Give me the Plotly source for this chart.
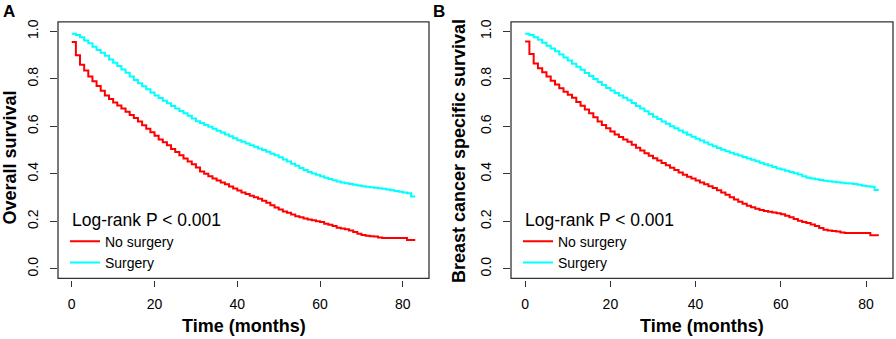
import plotly.graph_objects as go

W, H = 896, 339
FONT = "Liberation Sans, Arial, sans-serif"

months = list(range(0, 84))

# Panel A: overall survival
os_no_surgery = [0.955, 0.90, 0.86, 0.835, 0.81, 0.79, 0.77, 0.75, 0.73, 0.715,
                 0.70, 0.688, 0.675, 0.662, 0.648, 0.635, 0.62, 0.605, 0.59, 0.575,
                 0.56, 0.545, 0.533, 0.52, 0.505, 0.492, 0.478, 0.465, 0.452, 0.44,
                 0.427, 0.41, 0.40, 0.39, 0.38, 0.372, 0.364, 0.356, 0.347, 0.338,
                 0.33, 0.322, 0.315, 0.308, 0.302, 0.295, 0.287, 0.278, 0.268, 0.258,
                 0.25, 0.242, 0.236, 0.229, 0.222, 0.217, 0.212, 0.208, 0.205, 0.201,
                 0.197, 0.19, 0.186, 0.18, 0.173, 0.17, 0.167, 0.162, 0.155, 0.148,
                 0.143, 0.139, 0.137, 0.136, 0.132, 0.13, 0.13, 0.13, 0.13, 0.13,
                 0.13, 0.122, 0.122, 0.122]
os_surgery = [0.99, 0.985, 0.975, 0.962, 0.95, 0.935, 0.922, 0.91, 0.897, 0.882,
              0.868, 0.854, 0.84, 0.826, 0.81, 0.795, 0.782, 0.769, 0.756, 0.743,
              0.73, 0.719, 0.708, 0.697, 0.686, 0.675, 0.665, 0.655, 0.645, 0.633,
              0.622, 0.614, 0.606, 0.598, 0.59, 0.582, 0.574, 0.566, 0.558, 0.55,
              0.542, 0.535, 0.528, 0.521, 0.514, 0.507, 0.5, 0.493, 0.485, 0.478,
              0.47, 0.461, 0.452, 0.443, 0.434, 0.425, 0.416, 0.408, 0.402, 0.396,
              0.39, 0.384, 0.378, 0.373, 0.368, 0.364, 0.36, 0.357, 0.354, 0.351,
              0.348, 0.346, 0.344, 0.342, 0.339, 0.337, 0.334, 0.331, 0.328, 0.325,
              0.322, 0.318, 0.305, 0.305]

# Panel B: breast cancer specific survival
bcss_no_surgery = [0.957, 0.905, 0.865, 0.845, 0.828, 0.81, 0.792, 0.776, 0.76, 0.746,
                   0.733, 0.72, 0.703, 0.687, 0.671, 0.655, 0.638, 0.621, 0.606, 0.592,
                   0.578, 0.566, 0.555, 0.545, 0.535, 0.523, 0.51, 0.498, 0.487, 0.476,
                   0.466, 0.456, 0.446, 0.436, 0.426, 0.416, 0.406, 0.396, 0.388, 0.38,
                   0.372, 0.364, 0.356, 0.348, 0.34, 0.331, 0.322, 0.312, 0.302, 0.292,
                   0.283, 0.274, 0.266, 0.259, 0.253, 0.248, 0.244, 0.24, 0.237, 0.234,
                   0.23, 0.224, 0.217, 0.21, 0.203, 0.197, 0.193, 0.187, 0.18, 0.172,
                   0.165, 0.161, 0.159, 0.157, 0.153, 0.151, 0.151, 0.151, 0.151, 0.151,
                   0.151, 0.142, 0.142, 0.142]
bcss_surgery = [0.99, 0.985, 0.975, 0.965, 0.952, 0.94, 0.928, 0.916, 0.903, 0.89,
                0.877, 0.864, 0.851, 0.838, 0.825, 0.812, 0.8, 0.787, 0.774, 0.762,
                0.751, 0.74, 0.73, 0.72, 0.71, 0.698, 0.686, 0.675, 0.664, 0.652,
                0.641, 0.631, 0.621, 0.611, 0.601, 0.592, 0.583, 0.574, 0.565, 0.556,
                0.548, 0.54, 0.532, 0.524, 0.516, 0.509, 0.502, 0.495, 0.489, 0.483,
                0.477, 0.471, 0.465, 0.459, 0.453, 0.447, 0.441, 0.435, 0.429, 0.423,
                0.418, 0.413, 0.408, 0.403, 0.397, 0.39, 0.384, 0.38, 0.377, 0.374,
                0.371, 0.369, 0.367, 0.365, 0.363, 0.361, 0.359, 0.357, 0.354, 0.35,
                0.348, 0.346, 0.332, 0.332]

group_names = ["No surgery", "Surgery"]
group_colors = ["#FF0000", "#00FFFF"]
x_ticks = [0, 20, 40, 60, 80]
y_ticks = [0.0, 0.2, 0.4, 0.6, 0.8, 1.0]
y_tick_text = ["0.0", "0.2", "0.4", "0.6", "0.8", "1.0"]
panel_letters = ["A", "B"]
y_titles = ["Overall survival", "Breast cancer specific survival"]
x_title = "Time (months)"
logrank_text = "Log-rank P < 0.001"

# layout geometry (pixels)
box_top, box_bottom = 20, 278
panels_px = [(58, 429), (511, 893)]
ytitle_px = [10.5, 458.5]
ytitle_py = [157, 150.5]
letter_px = [9, 439]


def px_x(p):
    return p / W


def px_y(p):
    return 1 - p / H


fig = go.Figure()
panel_data = [(os_no_surgery, os_surgery), (bcss_no_surgery, bcss_surgery)]

shapes = []
annotations = []
for i, (data, (l, r)) in enumerate(zip(panel_data, panels_px)):
    xa = "x" if i == 0 else "x2"
    ya = "y" if i == 0 else "y2"
    leg = "legend" if i == 0 else "legend2"
    for name, vals, col in zip(group_names, data, group_colors):
        fig.add_trace(go.Scatter(
            x=months, y=vals, mode="lines", line=dict(color=col, width=2, shape="hv"),
            name=name, xaxis=xa, yaxis=ya, legend=leg, showlegend=True,
            hoverinfo="skip"))

    axkey = "xaxis" if i == 0 else "xaxis2"
    aykey = "yaxis" if i == 0 else "yaxis2"
    fig.update_layout(**{
        axkey: dict(
            domain=[px_x(l), px_x(r)], range=[-3.32, 86.32], anchor="free",
            position=px_y(box_bottom + 1.5), showgrid=False, zeroline=False,
            showline=False, tickvals=x_ticks, ticks="outside", ticklen=6,
            tickwidth=1, tickcolor="#333333", ticklabelstandoff=5,
            tickfont=dict(family=FONT, size=14, color="#000000"),
        ),
        aykey: dict(
            domain=[px_y(box_bottom), px_y(box_top)], range=[-0.04, 1.04],
            anchor="free", position=px_x(l - 1.5), showgrid=False,
            zeroline=False, showline=False, tickvals=y_ticks,
            ticktext=y_tick_text, ticks="outside", ticklen=7, tickwidth=1,
            tickcolor="#333333", tickangle=-90, ticklabelstandoff=6,
            tickfont=dict(family=FONT, size=14, color="#000000"),
        ),
        leg: dict(
            x=px_x(l + 7), y=px_y(225), xanchor="left", yanchor="top",
            bgcolor="rgba(0,0,0,0)", borderwidth=0, tracegroupgap=0,
            font=dict(family=FONT, size=14, color="#000000"),
            itemwidth=30,
        ),
    })
    # plot box
    shapes.append(dict(type="rect", xref="paper", yref="paper",
                       x0=px_x(l), x1=px_x(r), y0=px_y(box_bottom), y1=px_y(box_top),
                       line=dict(color="#333333", width=1.3)))
    # x-axis title
    annotations.append(dict(text="<b>" + x_title + "</b>", xref="paper", yref="paper",
                            x=px_x((l + r) / 2), y=px_y(326), xanchor="center",
                            yanchor="middle", showarrow=False,
                            font=dict(family=FONT, size=18, color="#000000")))
    # y-axis title
    annotations.append(dict(text="<b>" + y_titles[i] + "</b>", xref="paper", yref="paper",
                            x=px_x(ytitle_px[i]), y=px_y(ytitle_py[i]),
                            xanchor="center", yanchor="middle", textangle=-90,
                            showarrow=False,
                            font=dict(family=FONT, size=18, color="#000000")))
    # panel letter
    annotations.append(dict(text="<b>" + panel_letters[i] + "</b>", xref="paper", yref="paper",
                            x=px_x(letter_px[i]), y=px_y(10), xanchor="center",
                            yanchor="middle", showarrow=False,
                            font=dict(family=FONT, size=17, color="#000000")))
    # log-rank text
    annotations.append(dict(text=logrank_text, xref="paper", yref="paper",
                            x=px_x(l + 12), y=px_y(219), xanchor="left",
                            yanchor="middle", showarrow=False,
                            font=dict(family=FONT, size=17.5, color="#000000")))

fig.update_layout(
    width=W, height=H, margin=dict(l=0, r=0, t=0, b=0),
    paper_bgcolor="#FFFFFF", plot_bgcolor="#FFFFFF",
    shapes=shapes, annotations=annotations,
    font=dict(family=FONT, color="#000000"),
)

fig.write_html("out.html", config={"displayModeBar": False},
               post_script="document.body.style.margin='0';document.body.style.padding='0';")
